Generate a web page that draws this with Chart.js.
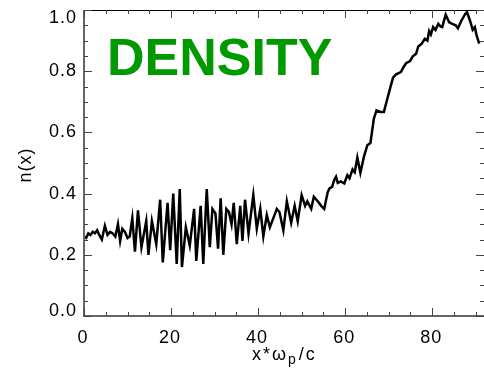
<!DOCTYPE html>
<html>
<head>
<meta charset="utf-8">
<script src="https://cdn.jsdelivr.net/npm/chart.js@4"></script>
<style>
  html, body { margin: 0; padding: 0; background: #fff; }
  #wrap { width: 484px; height: 375px; }
</style>
</head>
<body>
<div id="wrap"><canvas id="densityChart" width="484" height="375"></canvas></div>
<script>
// positions x*wp/c
const xs = [
    0, 0.5, 1, 1.5, 2, 2.5, 3, 3.5, 4.1, 4.8, 5.4, 6, 6.6, 7.2, 7.8, 8.3, 8.8, 9.4, 10, 10.5, 11.1, 11.7,
    12.4, 13.2, 14.3, 14.8, 15.6, 16.6, 17.5, 18.1, 19.2, 19.8, 20.5, 21.3, 22.0, 22.5, 23.4, 24.3, 25.3, 25.8,
    26.8, 27.4, 28.2, 28.9, 29.5, 30.2, 30.8, 31.4, 32.0, 32.7, 33.3, 33.9, 34.4, 35.1, 35.9, 36.4, 37.0, 37.8,
    38.9, 39.7, 40.5, 41.2, 42.0, 42.7, 43.5, 44.3, 44.9, 45.8, 46.6, 47.6, 48.4, 49.1, 50.0, 50.8, 51.3, 52.2,
    52.8, 53.7, 54.5, 55.2, 55.6, 56.0, 56.4, 57.0, 57.5, 57.9, 58.3, 59.0, 59.8, 60.5, 61.0, 61.7, 62.2, 62.8,
    63.5, 64.3, 65.1, 65.8, 66.6, 67.2, 68.1, 68.9, 69.6, 70.4, 71.0, 71.7, 72.8, 73.4, 74.0, 74.9, 75.5, 76.3,
    76.8, 77.6, 78.3, 78.9, 79.3, 79.7, 80.2, 80.75, 81.4, 81.9, 82.3, 83.1, 83.9, 84.6, 85.4, 85.9, 86.7, 87.6,
    88.0, 88.8, 89.3, 89.8, 90.2, 90.8
];
// n(x)
const density = [
    0.26, 0.255, 0.27, 0.265, 0.275, 0.27, 0.28, 0.265, 0.25, 0.295, 0.265, 0.275, 0.27, 0.26, 0.30, 0.245, 0.285, 0.275, 0.255, 0.26, 0.32, 0.21,
    0.345, 0.225, 0.31, 0.20, 0.31, 0.235, 0.38, 0.175, 0.37, 0.215, 0.40, 0.17, 0.415, 0.16, 0.29, 0.23, 0.35, 0.18,
    0.36, 0.17, 0.415, 0.225, 0.35, 0.335, 0.22, 0.385, 0.20, 0.35, 0.34, 0.30, 0.37, 0.235, 0.36, 0.245, 0.38, 0.27,
    0.395, 0.285, 0.35, 0.26, 0.33, 0.29, 0.32, 0.35, 0.34, 0.28, 0.375, 0.305, 0.36, 0.31, 0.395, 0.36, 0.375, 0.35,
    0.39, 0.375, 0.36, 0.35, 0.378, 0.405, 0.417, 0.422, 0.445, 0.455, 0.435, 0.44, 0.433, 0.46, 0.45, 0.479, 0.47, 0.518,
    0.468, 0.52, 0.558, 0.565, 0.645, 0.672, 0.667, 0.667, 0.705, 0.748, 0.779, 0.79, 0.797, 0.813, 0.826, 0.833, 0.848, 0.857,
    0.881, 0.89, 0.906, 0.90, 0.931, 0.92, 0.944, 0.935, 0.955, 0.946, 0.944, 0.985, 0.96, 0.955, 0.95, 0.94, 0.965, 0.987,
    0.993, 0.96, 0.935, 0.944, 0.917, 0.89
];
const xTicks = [0, 20, 40, 60, 80];
const yTicks = [0.0, 0.2, 0.4, 0.6, 0.8, 1.0];
const xMinorStep = 5;
const yMinorStep = 0.05;

const labelFont = '18px "Liberation Sans", Arial, sans-serif';

// axes, inward ticks and titles drawn by hand (IDL look)
const idlAxes = {
    id: 'idlAxes',
    afterDraw(chart) {
        const ctx = chart.ctx;
        const a = chart.chartArea;
        const xs_ = chart.scales.x;
        const ys_ = chart.scales.y;
        ctx.save();

        // frame
        ctx.strokeStyle = '#000';
        ctx.lineWidth = 1;
        ctx.beginPath();
        ctx.moveTo(a.left, a.top + 0.5);
        ctx.lineTo(a.right, a.top + 0.5);
        ctx.stroke();
        ctx.strokeStyle = '#666';
        ctx.lineWidth = 2;
        ctx.beginPath();
        ctx.moveTo(a.left, a.top);
        ctx.lineTo(a.left, a.bottom);
        ctx.lineTo(a.right, a.bottom);
        ctx.stroke();

        // ticks
        ctx.strokeStyle = '#444';
        ctx.lineWidth = 1;
        ctx.beginPath();
        for (let v = 0; v <= xs_.max + 1e-6; v += xMinorStep) {
            const px = Math.round(xs_.getPixelForValue(v)) + 0.5;
            const len = xTicks.includes(v) ? 8 : 4;
            ctx.moveTo(px, a.bottom); ctx.lineTo(px, a.bottom - len);
            ctx.moveTo(px, a.top); ctx.lineTo(px, a.top + len);
        }
        for (let i = 0; i <= 20; i++) {
            const v = +(i * yMinorStep).toFixed(2);
            const py = Math.round(ys_.getPixelForValue(v)) + 0.5;
            const len = i % 4 === 0 ? 8 : 4;
            ctx.moveTo(a.left, py); ctx.lineTo(a.left + len, py);
            ctx.moveTo(a.right, py); ctx.lineTo(a.right - len, py);
        }
        ctx.stroke();

        // tick labels
        ctx.fillStyle = '#000';
        ctx.font = labelFont;
        ctx.letterSpacing = '1px';
        ctx.textAlign = 'center';
        ctx.textBaseline = 'middle';
        xTicks.forEach(v => {
            ctx.fillText(String(v), xs_.getPixelForValue(v) - 1, 338);
        });
        ctx.textAlign = 'right';
        yTicks.forEach(v => {
            let py = ys_.getPixelForValue(v);
            py = Math.min(Math.max(py, a.top + 8), a.bottom - 5);
            ctx.fillText(v.toFixed(1), a.left - 7, py);
        });

        // y title
        ctx.save();
        ctx.translate(26, 165);
        ctx.rotate(-Math.PI / 2);
        ctx.textAlign = 'center';
        ctx.fillText('n(x)', 0, 0);
        ctx.restore();

        // x title with subscript
        ctx.textAlign = 'left';
        ctx.textBaseline = 'alphabetic';
        ctx.letterSpacing = '2px';
        let tx = 252;
        const base = 360;
        ctx.fillText('x*ω', tx, base);
        tx += ctx.measureText('x*ω').width;
        ctx.font = '14px "Liberation Sans", Arial, sans-serif';
        ctx.fillText('p', tx, base + 4);
        tx += ctx.measureText('p').width + 1;
        ctx.font = labelFont;
        ctx.fillText('/c', tx, base);

        // big label
        ctx.letterSpacing = '0px';
        ctx.fillStyle = '#009900';
        ctx.font = 'bold 52px "Liberation Sans", Arial, sans-serif';
        ctx.fillText('DENSITY', 107, 75);

        ctx.restore();
    }
};

const ctx = document.getElementById('densityChart').getContext('2d');
new Chart(ctx, {
    type: 'line',
    data: {
        datasets: [{
            data: xs.map((x, i) => ({ x: x, y: density[i] })),
            borderColor: '#000',
            borderWidth: 2.5,
            pointRadius: 0,
            tension: 0
        }]
    },
    options: {
        responsive: false,
        animation: false,
        layout: { padding: { left: 84, top: 10, right: -4, bottom: 59 } },
        plugins: {
            legend: { display: false },
            tooltip: { enabled: false }
        },
        scales: {
            x: { type: 'linear', display: false, min: 0, max: 91.9 },
            y: { display: false, min: 0, max: 1 }
        }
    },
    plugins: [idlAxes]
});
</script>
</body>
</html>
